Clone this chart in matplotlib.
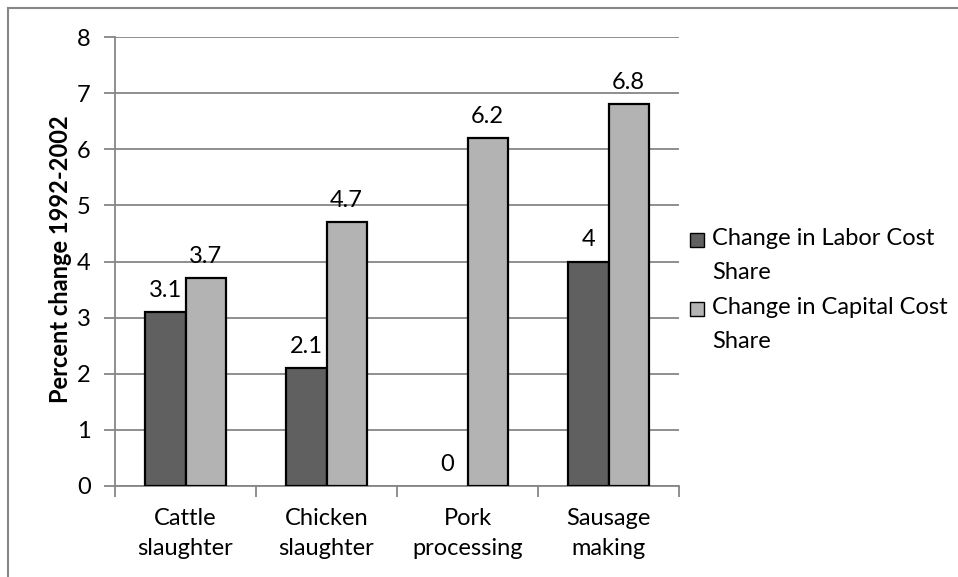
import numpy as np
import matplotlib
matplotlib.use('Agg')
from matplotlib import pyplot as plt
from matplotlib.patches import Rectangle

categories = ['Cattle\nslaughter', 'Chicken\nslaughter', 'Pork\nprocessing', 'Sausage\nmaking']
labor = [3.1, 2.1, 0, 4]
capital = [3.7, 4.7, 6.2, 6.8]
labor_labels = ['3.1', '2.1', '0', '4']
capital_labels = ['3.7', '4.7', '6.2', '6.8']
series_names = ['Change in Labor Cost\nShare', 'Change in Capital Cost\nShare']
colors = ['#606060', '#b3b3b3']

plt.rcParams['font.family'] = ['Lato', 'DejaVu Sans']
grey = '#868686'
fs = 17

fig = plt.figure(figsize=(9.58, 5.77), dpi=100)
# outer chart frame (cut at right/bottom like the screenshot)
fig.patches.append(Rectangle((8/958, -0.1), 1.2, 1 - 8/577 + 0.1, transform=fig.transFigure,
                             fill=False, edgecolor=grey, lw=1.5))

ax = fig.add_axes([115/958, 1 - 486/577, 564/958, 449/577])
x = np.arange(len(categories))
w = 0.284
b1 = ax.bar(x - w/2, labor, w, color=colors[0], edgecolor='black', lw=1.6, zorder=3)
b2 = ax.bar(x + w/2, capital, w, color=colors[1], edgecolor='black', lw=1.6, zorder=3)
for r in list(b1) + list(b2):
    if r.get_height() == 0:
        r.set_linewidth(0)
ax.bar_label(b1, labels=labor_labels, padding=8, fontsize=fs)
ax.bar_label(b2, labels=capital_labels, padding=8, fontsize=fs)

ax.set_xlim(-0.5, 3.5)
ax.set_ylim(0, 8)
ax.set_yticks(range(9))
ax.yaxis.grid(True, color=grey, lw=1.3, zorder=0)
ax.set_axisbelow(True)

ax.set_xticks(np.arange(-0.5, 4, 1))
ax.set_xticklabels([])
ax.set_xticks(x, minor=True)
ax.set_xticklabels(categories, minor=True, fontsize=fs, linespacing=1.5)
ax.tick_params(axis='x', which='minor', length=0, pad=16)
ax.tick_params(axis='x', which='major', length=8, color=grey, width=1.3)
ax.tick_params(axis='y', length=8, color=grey, width=1.3, labelsize=fs, pad=9.5)

for s in ['top', 'right']:
    ax.spines[s].set_visible(False)
for s in ['left', 'bottom']:
    ax.spines[s].set_color(grey)
    ax.spines[s].set_linewidth(1.3)

ax.set_ylabel('Percent change 1992-2002', fontsize=17, fontweight='bold')
ax.yaxis.set_label_coords(72/958, 1 - 259/577, transform=fig.transFigure)

# legend: square aligned with first line of each two-line entry
for i, (name, c) in enumerate(zip(series_names, colors)):
    yc = 1 - (240 + i * 69) / 577
    fig.patches.append(Rectangle((690/958, yc - 7/577), 14/958, 14/577, transform=fig.transFigure,
                                 facecolor=c, edgecolor='black', lw=1.0))
    fig.text(712/958, yc + 12/577, name, fontsize=fs, ha='left', va='top', linespacing=1.75)

fig.savefig('out.png', dpi=100)
